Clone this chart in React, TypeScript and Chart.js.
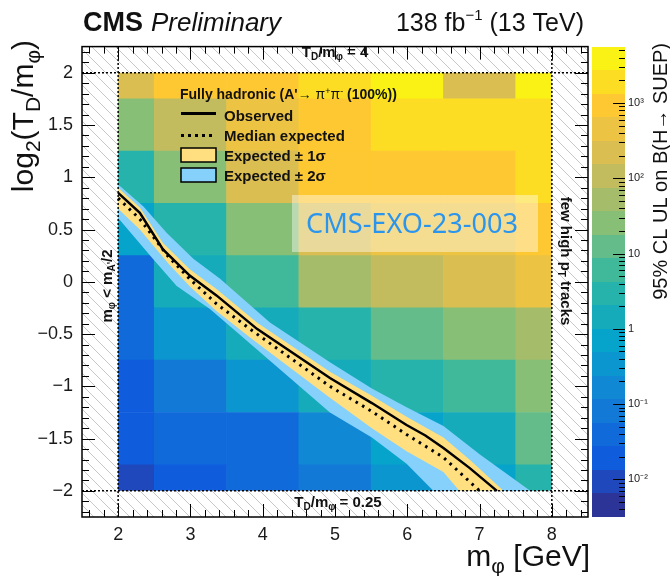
import React, { useEffect, useRef } from 'react';
import { Chart, registerables } from 'chart.js';

Chart.register(...registerables);

// ---------------- data ----------------
// heat-map bins
const massBins = [2, 3, 4, 5, 6, 7, 8]; // m_phi bin centres [GeV]
const log2Bins = [2, 1.5, 1, 0.5, 0, -0.5, -1, -1.5, -2]; // log2(T_D/m_phi) bin centres
const log2BinHalfWidth = 0.25;
// 95% CL upper limits on B(H -> SUEP), one array per log2(T_D/m_phi) row
const ulAtLog2Plus2 = [180, 650, 1000, 2000, 2800, 200, 3600];
const ulAtLog2Plus1p5 = [24, 130, 360, 870, 1800, 1800, 2400];
const ulAtLog2Plus1 = [2.8, 32, 180, 750, 1000, 1000, 1500];
const ulAtLog2Plus0p5 = [0.75, 4.2, 28, 180, 320, 560, 650];
const ulAtLog2Zero = [0.056, 1.3, 7.5, 49, 87, 155, 420];
const ulAtLog2Minus0p5 = [0.042, 0.24, 1.0, 3.6, 13, 28, 42];
const ulAtLog2Minus1 = [0.018, 0.1, 0.24, 1.0, 4.2, 7.5, 32];
const ulAtLog2Minus1p5 = [0.02, 0.042, 0.049, 0.2, 0.65, 1.8, 8.7];
const ulAtLog2Minus2 = [0.013, 0.02, 0.028, 0.087, 0.24, 0.56, 4.2];
const ulRows = [
  ulAtLog2Plus2, ulAtLog2Plus1p5, ulAtLog2Plus1, ulAtLog2Plus0p5, ulAtLog2Zero,
  ulAtLog2Minus0p5, ulAtLog2Minus1, ulAtLog2Minus1p5, ulAtLog2Minus2,
];

// exclusion contours (B = 1)
const observedMass = [2.0, 2.3, 2.62, 2.99, 3.36, 3.92, 4.93, 5.51, 5.99, 6.25, 6.5, 6.86, 7.24];
const observedLog2 = [0.85, 0.66, 0.31, 0.06, -0.13, -0.45, -0.92, -1.16, -1.37, -1.47, -1.59, -1.78, -2.0];
const expectedMass = [2.0, 2.3, 2.67, 3.0, 3.36, 3.82, 4.93, 5.51, 5.99, 6.5, 7.0];
const expectedLog2 = [0.8, 0.6, 0.26, 0.02, -0.21, -0.45, -1.0, -1.24, -1.46, -1.68, -2.0];
const plus1Mass = [2.0, 2.3, 2.62, 2.99, 3.36, 3.92, 4.93, 5.51, 5.99, 6.5, 6.86, 7.33];
const plus1Log2 = [0.9, 0.71, 0.37, 0.12, -0.07, -0.39, -0.86, -1.09, -1.29, -1.49, -1.7, -2.0];
const minus1Mass = [2.0, 2.3, 2.7, 3.0, 3.36, 3.82, 4.93, 5.51, 5.99, 6.5, 6.72];
const minus1Log2 = [0.7, 0.5, 0.17, -0.05, -0.28, -0.53, -1.11, -1.4, -1.62, -1.82, -2.0];
const plus2Mass = [2.0, 2.35, 2.67, 3.04, 3.41, 4.1, 4.93, 5.51, 5.99, 6.5, 7.0, 7.7];
const plus2Log2 = [0.93, 0.72, 0.47, 0.22, 0.03, -0.39, -0.77, -1.02, -1.2, -1.38, -1.65, -2.0];
const minus2Mass = [2.0, 2.48, 2.81, 3.27, 3.64, 4.93, 5.51, 5.99, 6.36];
const minus2Log2 = [0.61, 0.22, -0.04, -0.26, -0.48, -1.25, -1.49, -1.74, -2.0];

// scanned region boundaries
const scanMass = [2, 8];
const scanLog2 = [-2, 2];

// axes
const xRange = [1.5, 8.5];
const yRange = [-2.25, 2.25];
const xTickValues = [2, 3, 4, 5, 6, 7, 8];
const yTickValues = [-2, -1.5, -1, -0.5, 0, 0.5, 1, 1.5, 2];
const cbLogRange = [-2.5, 3.75];
const cbTickValues = [0.01, 0.1, 1, 10, 100, 1000];
const cbTickLabels = ['10\u207B\u00B2', '10\u207B\u00B9', '1', '10', '10\u00B2', '10\u00B3'];
const nContours = 20;

// ---------------- palette (ROOT kBird) ----------------
const birdStops = [0, 0.125, 0.25, 0.375, 0.5, 0.625, 0.75, 0.875, 1];
const birdR = [0.2082, 0.0592, 0.078, 0.0232, 0.1802, 0.5301, 0.8186, 0.9956, 0.9764];
const birdG = [0.1664, 0.3599, 0.5041, 0.6419, 0.7178, 0.7492, 0.7328, 0.7862, 0.9832];
const birdB = [0.5293, 0.8684, 0.8385, 0.7914, 0.6425, 0.4662, 0.3499, 0.1968, 0.0539];

function bird(f: number): string {
  const t = Math.min(1, Math.max(0, f));
  let i = 0;
  while (i < birdStops.length - 2 && t > birdStops[i + 1]) i++;
  const u = (t - birdStops[i]) / (birdStops[i + 1] - birdStops[i]);
  const c = (arr: number[]) => Math.round(255 * (arr[i] + u * (arr[i + 1] - arr[i])));
  return `rgb(${c(birdR)},${c(birdG)},${c(birdB)})`;
}

function ulColor(v: number): string {
  const f = (Math.log10(v) - cbLogRange[0]) / (cbLogRange[1] - cbLogRange[0]);
  const band = Math.min(nContours - 1, Math.max(0, Math.floor(f * nContours)));
  return bird((band + 0.5) / nContours);
}

// ---------------- helpers ----------------
const SANS = "'Liberation Sans', Arial, Helvetica, sans-serif";
type Part = { t: string; size: number; dy?: number; bold?: boolean; italic?: boolean; family?: string };

function rich(
  ctx: CanvasRenderingContext2D, parts: Part[], x: number, y: number, rot: number,
  align: 'left' | 'center' | 'right', color = '#111'
) {
  ctx.save();
  ctx.translate(x, y);
  ctx.rotate(rot);
  ctx.fillStyle = color;
  ctx.textAlign = 'left';
  ctx.textBaseline = 'alphabetic';
  const fontOf = (p: Part) => `${p.italic ? 'italic ' : ''}${p.bold ? 'bold ' : ''}${p.size}px ${p.family || SANS}`;
  const widths = parts.map((p) => { ctx.font = fontOf(p); return ctx.measureText(p.t).width; });
  const total = widths.reduce((s, w) => s + w, 0);
  let cx = align === 'left' ? 0 : align === 'center' ? -total / 2 : -total;
  parts.forEach((p, i) => { ctx.font = fontOf(p); ctx.fillText(p.t, cx, p.dy || 0); cx += widths[i]; });
  ctx.restore();
}

const zip = (xs: number[], ys: number[]) => xs.map((x, i) => ({ x, y: ys[i] }));
const bandShape = (ux: number[], uy: number[], lx: number[], ly: number[]) =>
  [...zip(ux, uy), ...zip(lx, ly).reverse()];

const YELLOW = '#ffdf7f';
const BLUE = '#85d1fb';
const CELL_INDEX = 4;

const decorPlugin = {
  id: 'decor',
  afterDatasetDraw(chart: any, args: any) {
    if (args.index !== CELL_INDEX) return;
    const { ctx, chartArea: a } = chart;
    const { x, y } = chart.scales;
    const l = x.getPixelForValue(scanMass[0]);
    const r = x.getPixelForValue(scanMass[1]);
    const t = y.getPixelForValue(scanLog2[1]);
    const b = y.getPixelForValue(scanLog2[0]);
    ctx.save();
    ctx.beginPath();
    ctx.rect(a.left, a.top, a.width, a.height);
    ctx.rect(l, t, r - l, b - t);
    ctx.fillStyle = '#ffffff';
    ctx.fill('evenodd');
    ctx.clip('evenodd');
    ctx.strokeStyle = '#c8c8c8';
    ctx.lineWidth = 1;
    ctx.beginPath();
    for (let k = -a.height; k < a.width + 12; k += 12) {
      ctx.moveTo(a.left + k, a.top);
      ctx.lineTo(a.left + k + a.height, a.top + a.height);
    }
    ctx.stroke();
    ctx.restore();
  },
  afterDraw(chart: any) {
    const { ctx, chartArea: a } = chart;
    const { x, y, cb } = chart.scales;
    ctx.save();

    // ---- frame ticks ----
    ctx.strokeStyle = '#000';
    ctx.lineWidth = 1;
    ctx.beginPath();
    for (let i = Math.ceil(xRange[0] * 5); i <= Math.floor(xRange[1] * 5); i++) {
      const v = i / 5;
      if (v <= xRange[0] || v >= xRange[1]) continue;
      const px = Math.round(x.getPixelForValue(v)) + 0.5;
      const len = i % 5 === 0 ? 13 : 7;
      ctx.moveTo(px, a.bottom); ctx.lineTo(px, a.bottom - len);
      ctx.moveTo(px, a.top); ctx.lineTo(px, a.top + len);
    }
    for (let i = Math.ceil(yRange[0] * 10); i <= Math.floor(yRange[1] * 10); i++) {
      const v = i / 10;
      if (v <= yRange[0] || v >= yRange[1]) continue;
      const py = Math.round(y.getPixelForValue(v)) + 0.5;
      const len = i % 5 === 0 ? 13 : 7;
      ctx.moveTo(a.left, py); ctx.lineTo(a.left + len, py);
      ctx.moveTo(a.right, py); ctx.lineTo(a.right - len, py);
    }
    ctx.stroke();
    ctx.lineWidth = 1.5;
    ctx.strokeRect(a.left, a.top, a.width, a.height);

    // ---- colour bar ----
    const x0 = Math.round(a.right + 4);
    const x1 = Math.round(a.right + 37);
    const step = (cbLogRange[1] - cbLogRange[0]) / nContours;
    for (let i = 0; i < nContours; i++) {
      const lo = cbLogRange[0] + i * step;
      const yb = Math.round(cb.getPixelForValue(Math.pow(10, lo)));
      const yt = Math.round(cb.getPixelForValue(Math.pow(10, lo + step)));
      ctx.fillStyle = bird((i + 0.5) / nContours);
      ctx.fillRect(x0, yt, x1 - x0, yb - yt);
    }
    ctx.strokeStyle = '#000';
    ctx.lineWidth = 1;
    ctx.beginPath();
    for (let d = Math.floor(cbLogRange[0]); d <= Math.ceil(cbLogRange[1]); d++) {
      for (let m = 1; m <= 9; m++) {
        const v = m * Math.pow(10, d);
        const lv = Math.log10(v);
        if (lv < cbLogRange[0] || lv > cbLogRange[1]) continue;
        const py = Math.round(cb.getPixelForValue(v)) + 0.5;
        const len = m === 1 ? 12 : 6;
        ctx.moveTo(x1, py); ctx.lineTo(x1 - len, py);
      }
    }
    ctx.stroke();

    // colour bar title
    rich(ctx, [{ t: '95% CL UL on B(H\u2192 SUEP)', size: 20 }], 667, 43, -Math.PI / 2, 'right');

    // ---- header ----
    ctx.font = `bold 27px ${SANS}`;
    const cmsW = ctx.measureText('CMS').width;
    rich(ctx, [{ t: 'CMS', size: 27, bold: true }], 83, 31, 0, 'left');
    rich(ctx, [{ t: 'Preliminary', size: 26, italic: true }], 83 + cmsW + 8, 31, 0, 'left');
    rich(ctx, [
      { t: '138 fb', size: 25 },
      { t: '\u22121', size: 15, dy: -11 },
      { t: ' (13 TeV)', size: 25 },
    ], 584, 31, 0, 'right');

    // ---- axis titles ----
    rich(ctx, [
      { t: 'log', size: 30 },
      { t: '2', size: 21, dy: 7 },
      { t: '(T', size: 30 },
      { t: 'D', size: 21, dy: 7 },
      { t: '/m', size: 30 },
      { t: '\u03C6', size: 21, dy: 7 },
      { t: ')', size: 30 },
    ], 33, 40, -Math.PI / 2, 'right');
    rich(ctx, [
      { t: 'm', size: 30 },
      { t: '\u03C6', size: 21, dy: 7 },
      { t: ' [GeV]', size: 30 },
    ], 590, 566, 0, 'right');

    // ---- region annotations ----
    const cx = x.getPixelForValue((scanMass[0] + scanMass[1]) / 2);
    rich(ctx, [
      { t: 'T', size: 15, bold: true },
      { t: 'D', size: 10, bold: true, dy: 3 },
      { t: '/m', size: 15, bold: true },
      { t: '\u03C6', size: 10, bold: true, dy: 3 },
      { t: ' = 4', size: 15, bold: true },
    ], cx, 57, 0, 'center');
    rich(ctx, [
      { t: 'T', size: 15, bold: true },
      { t: 'D', size: 10, bold: true, dy: 3 },
      { t: '/m', size: 15, bold: true },
      { t: '\u03C6', size: 10, bold: true, dy: 3 },
      { t: ' = 0.25', size: 15, bold: true },
    ], cx + 3, 507, 0, 'center');
    rich(ctx, [
      { t: 'm', size: 15, bold: true },
      { t: '\u03C6', size: 10, bold: true, dy: 3 },
      { t: ' < m', size: 15, bold: true },
      { t: "A'", size: 10, bold: true, dy: 3 },
      { t: '/2', size: 15, bold: true },
    ], 112, 286, -Math.PI / 2, 'center');
    rich(ctx, [
      { t: 'few high p', size: 15, bold: true },
      { t: 'T', size: 10, bold: true, dy: 3 },
      { t: ' tracks', size: 15, bold: true },
    ], 561, 261, Math.PI / 2, 'center');

    // ---- legend ----
    rich(ctx, [
      { t: "Fully hadronic (A'", size: 14, bold: true },
      { t: '\u2192 ', size: 14 },
      { t: '\u03C0', size: 14 },
      { t: '+', size: 9, dy: -5 },
      { t: '\u03C0', size: 14 },
      { t: '-', size: 9, dy: -5 },
      { t: ' (100%))', size: 14, bold: true },
    ], 180, 99, 0, 'left');
    ctx.strokeStyle = '#000';
    ctx.lineWidth = 3;
    ctx.beginPath(); ctx.moveTo(181, 113.5); ctx.lineTo(216, 113.5); ctx.stroke();
    ctx.setLineDash([3, 4]);
    ctx.beginPath(); ctx.moveTo(181, 135.5); ctx.lineTo(216, 135.5); ctx.stroke();
    ctx.setLineDash([]);
    ctx.lineWidth = 1.5;
    ctx.fillStyle = YELLOW; ctx.fillRect(181, 148, 35, 14); ctx.strokeRect(181, 148, 35, 14);
    ctx.fillStyle = BLUE; ctx.fillRect(181, 168, 35, 14); ctx.strokeRect(181, 168, 35, 14);
    rich(ctx, [{ t: 'Observed', size: 15, bold: true }], 224, 120.5, 0, 'left');
    rich(ctx, [{ t: 'Median expected', size: 15, bold: true }], 224, 140.5, 0, 'left');
    rich(ctx, [{ t: 'Expected \u00B1 1\u03C3', size: 15, bold: true }], 224, 160.5, 0, 'left');
    rich(ctx, [{ t: 'Expected \u00B1 2\u03C3', size: 15, bold: true }], 224, 180.5, 0, 'left');

    // ---- watermark ----
    ctx.fillStyle = 'rgba(255,255,255,0.42)';
    ctx.fillRect(292, 195, 246, 57);
    ctx.font = `28px 'Noto Sans', sans-serif`;
    const wmText = 'CMS-EXO-23-003';
    const wmW = ctx.measureText(wmText).width;
    ctx.save();
    ctx.translate(412, 233);
    ctx.scale(212 / wmW, 1);
    ctx.fillStyle = '#2b95ee';
    ctx.textAlign = 'center';
    ctx.textBaseline = 'alphabetic';
    ctx.fillText(wmText, 0, 0);
    ctx.restore();

    ctx.restore();
  },
};

export default function App() {
  const ref = useRef<HTMLCanvasElement | null>(null);
  useEffect(() => {
    if (!ref.current) return;
    const cellData: { x: number; y: number[] }[] = [];
    const cellColors: string[] = [];
    log2Bins.forEach((yc, r) => {
      massBins.forEach((xc, c) => {
        cellData.push({ x: xc, y: [yc - log2BinHalfWidth, yc + log2BinHalfWidth] });
        cellColors.push(ulColor(ulRows[r][c]));
      });
    });
    const lineBase = { type: 'line', pointRadius: 0, pointHoverRadius: 0, pointHitRadius: 0, tension: 0 };
    const boundary = (data: { x: number; y: number }[]) => ({
      ...lineBase, data, borderColor: '#000', borderWidth: 1.5, borderDash: [2, 2], fill: false, order: 0,
    });
    const chart = new Chart(ref.current, {
      type: 'line',
      data: {
        datasets: [
          { ...lineBase, label: 'Observed', data: zip(observedMass, observedLog2), borderColor: '#000', borderWidth: 2.5, fill: false, order: 1 },
          { ...lineBase, label: 'Median expected', data: zip(expectedMass, expectedLog2), borderColor: '#000', borderWidth: 3, borderDash: [2.5, 5], fill: false, order: 2 },
          { ...lineBase, label: 'Expected \u00B1 1\u03C3', data: bandShape(plus1Mass, plus1Log2, minus1Mass, minus1Log2), borderWidth: 0, borderColor: 'rgba(0,0,0,0)', backgroundColor: YELLOW, fill: 'shape', order: 3 },
          { ...lineBase, label: 'Expected \u00B1 2\u03C3', data: bandShape(plus2Mass, plus2Log2, minus2Mass, minus2Log2), borderWidth: 0, borderColor: 'rgba(0,0,0,0)', backgroundColor: BLUE, fill: 'shape', order: 4 },
          { type: 'bar', label: 'UL', data: cellData, backgroundColor: cellColors, borderWidth: 0, barPercentage: 1, categoryPercentage: 1, xAxisID: 'x', yAxisID: 'y', order: 10 },
          boundary([{ x: xRange[0], y: scanLog2[1] }, { x: xRange[1], y: scanLog2[1] }]),
          boundary([{ x: xRange[0], y: scanLog2[0] }, { x: xRange[1], y: scanLog2[0] }]),
          boundary([{ x: scanMass[0], y: yRange[0] }, { x: scanMass[0], y: yRange[1] }]),
          boundary([{ x: scanMass[1], y: yRange[0] }, { x: scanMass[1], y: yRange[1] }]),
        ] as any,
      },
      options: {
        animation: false,
        responsive: false,
        devicePixelRatio: 1,
        events: [],
        layout: { padding: { top: 43, left: 0, right: 0, bottom: 0 } },
        plugins: { legend: { display: false }, tooltip: { enabled: false } },
        scales: {
          x: {
            type: 'linear', min: xRange[0], max: xRange[1], offset: false,
            grid: { display: false, drawTicks: false }, border: { display: false },
            afterBuildTicks: (s: any) => { s.ticks = xTickValues.map((v) => ({ value: v })); },
            afterFit: (s: any) => { s.height = 59; },
            ticks: { autoSkip: false, maxRotation: 0, padding: 7, color: '#1a1a1a', font: { family: SANS, size: 18 } },
          },
          y: {
            type: 'linear', position: 'left', min: yRange[0], max: yRange[1],
            grid: { display: false, drawTicks: false }, border: { display: false },
            afterBuildTicks: (s: any) => { s.ticks = yTickValues.map((v) => ({ value: v })); },
            afterFit: (s: any) => { s.width = 82; },
            ticks: {
              autoSkip: false, padding: 9, color: '#1a1a1a', font: { family: SANS, size: 18 },
              callback: (v: any) => String(v).replace('-', '\u2212'),
            },
          },
          cb: {
            type: 'logarithmic', axis: 'y', position: 'right',
            min: Math.pow(10, cbLogRange[0]), max: Math.pow(10, cbLogRange[1]),
            grid: { display: false, drawTicks: false }, border: { display: false },
            afterBuildTicks: (s: any) => { s.ticks = cbTickValues.map((v) => ({ value: v })); },
            afterFit: (s: any) => { s.width = 82; },
            ticks: {
              autoSkip: false, padding: 40, color: '#1a1a1a', font: { family: SANS, size: 11 },
              callback: (v: any) => {
                const i = cbTickValues.indexOf(Number(v));
                return i >= 0 ? cbTickLabels[i] : '';
              },
            },
          },
        } as any,
      },
      plugins: [decorPlugin as any],
    });
    return () => chart.destroy();
  }, []);

  return (
    <div style={{ position: 'fixed', left: 0, top: 0, width: 670, height: 576, background: '#fff' }}>
      <canvas ref={ref} width={670} height={576} style={{ display: 'block' }} />
    </div>
  );
}
